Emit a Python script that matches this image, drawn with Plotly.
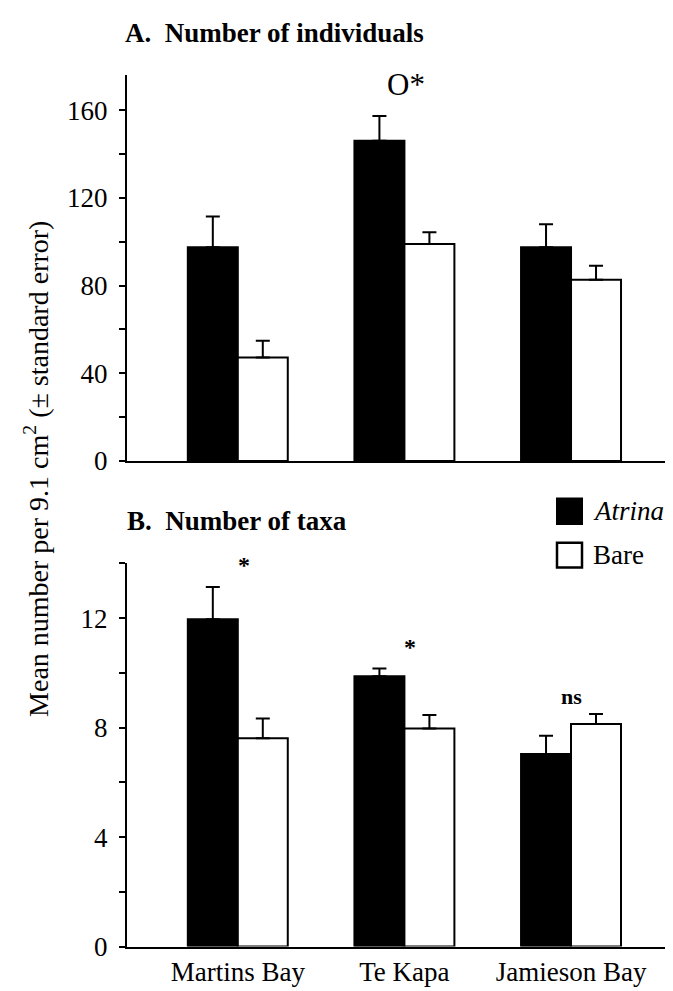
import plotly.graph_objects as go

# ---- data ----
sites = ["Martins Bay", "Te Kapa", "Jamieson Bay"]
indiv_atrina = [97.5, 146.0, 97.5]
indiv_atrina_se = [14.0, 11.3, 10.4]
indiv_bare = [47.2, 98.9, 82.7]
indiv_bare_se = [7.6, 5.4, 6.3]
taxa_atrina = [11.96, 9.88, 7.04]
taxa_atrina_se = [1.18, 0.28, 0.66]
taxa_bare = [7.61, 7.97, 8.13]
taxa_bare_se = [0.72, 0.49, 0.37]
ticks_a = [0, 40, 80, 120, 160]
ticks_b = [0, 4, 8, 12]
series_names = ["Atrina", "Bare"]

W, H = 673, 991
FONT = "Liberation Serif, Times New Roman, DejaVu Serif, serif"

def px_x(p):
    return p / W

def px_y(p):
    return 1 - p / H

fig = go.Figure()

def add_bars(vals, se, color, name, xa, ya):
    fig.add_trace(go.Bar(
        x=sites, y=vals, name=name, xaxis=xa, yaxis=ya,
        marker=dict(color=color, line=dict(color="black", width=2)),
        error_y=dict(type="data", array=se, arrayminus=[0] * len(se), symmetric=False,
                     color="black", thickness=2, width=7),
        offsetgroup=name, showlegend=False,
    ))

add_bars(indiv_atrina, indiv_atrina_se, "black", series_names[0], "x", "y")
add_bars(indiv_bare, indiv_bare_se, "white", series_names[1], "x", "y")
add_bars(taxa_atrina, taxa_atrina_se, "black", series_names[0], "x2", "y2")
add_bars(taxa_bare, taxa_bare_se, "white", series_names[1], "x2", "y2")

xdom = [px_x(119), 1.0]
xrange_ = [-0.665, 2.66]
axis_common = dict(showline=True, linecolor="black", linewidth=2, showgrid=False, zeroline=False)

fig.update_layout(
    width=W, height=H,
    margin=dict(l=0, r=0, t=0, b=0),
    paper_bgcolor="white", plot_bgcolor="white",
    barmode="group", bargap=0.4, bargroupgap=0,
    font=dict(family=FONT, color="black", size=27),
    xaxis=dict(domain=xdom, range=xrange_, anchor="y", showticklabels=False, ticks="",
               **axis_common),
    yaxis=dict(domain=[px_y(460), px_y(68)], range=[0, 176], anchor="x",
               tickvals=ticks_a, ticks="outside", ticklen=6, tickwidth=2, tickcolor="black",
               minor=dict(dtick=20, tick0=0, ticks="outside", ticklen=6, tickwidth=2, tickcolor="black"),
               tickfont=dict(size=27, family=FONT), ticklabelstandoff=6, **axis_common),
    xaxis2=dict(domain=xdom, range=xrange_, anchor="y2", ticks="",
                tickfont=dict(size=27, family=FONT), **axis_common),
    yaxis2=dict(domain=[px_y(953), px_y(564)], range=[0, 14], anchor="x2",
                tickvals=ticks_b, ticks="outside", ticklen=6, tickwidth=2, tickcolor="black",
                minor=dict(dtick=2, tick0=0, ticks="outside", ticklen=6, tickwidth=2, tickcolor="black"),
                tickfont=dict(size=27, family=FONT), ticklabelstandoff=6, **axis_common),
)

ann = []
# panel titles
ann.append(dict(text="<b>A.  Number of individuals</b>", x=px_x(115), y=px_y(25),
                xref="paper", yref="paper", xanchor="left", yanchor="middle",
                showarrow=False, font=dict(size=27, family=FONT)))
ann.append(dict(text="<b>B.  Number of taxa</b>", x=px_x(117), y=px_y(521),
                xref="paper", yref="paper", xanchor="left", yanchor="middle",
                showarrow=False, font=dict(size=27, family=FONT)))
# y-axis title
ann.append(dict(text="Mean number per 9.1 cm<sup>2</sup> (± standard error)", x=px_x(29), y=px_y(468),
                xref="paper", yref="paper", xanchor="center", yanchor="middle", textangle=-90,
                showarrow=False, font=dict(size=28, family=FONT)))
# significance marks
ann.append(dict(text="O*", x=sites[1], y=171.5, xref="x", yref="y", showarrow=False,
                xanchor="center", yanchor="middle", xshift=2, font=dict(size=31, family=FONT)))
ann.append(dict(text="<b>*</b>", x=sites[0], y=13.95, xref="x2", yref="y2", showarrow=False,
                xanchor="center", yanchor="middle", xshift=6, font=dict(size=24, family=FONT)))
ann.append(dict(text="<b>*</b>", x=sites[1], y=10.95, xref="x2", yref="y2", showarrow=False,
                xanchor="center", yanchor="middle", xshift=6, font=dict(size=24, family=FONT)))
ann.append(dict(text="<b>ns</b>", x=sites[2], y=9.15, xref="x2", yref="y2", showarrow=False,
                xanchor="center", yanchor="middle", font=dict(size=22, family=FONT)))
# legend labels
ann.append(dict(text="<i>" + series_names[0] + "</i>", x=px_x(583), y=px_y(511),
                xref="paper", yref="paper", xanchor="left", yanchor="middle",
                showarrow=False, font=dict(size=27, family=FONT)))
ann.append(dict(text=series_names[1], x=px_x(583), y=px_y(555),
                xref="paper", yref="paper", xanchor="left", yanchor="middle",
                showarrow=False, font=dict(size=27, family=FONT)))
fig.update_layout(annotations=ann)

# legend swatches
fig.add_shape(type="rect", xref="paper", yref="paper",
              x0=px_x(549), x1=px_x(574), y0=px_y(524), y1=px_y(498),
              fillcolor="black", line=dict(color="black", width=2))
fig.add_shape(type="rect", xref="paper", yref="paper",
              x0=px_x(549), x1=px_x(574), y0=px_y(568), y1=px_y(543),
              fillcolor="white", line=dict(color="black", width=2.5))

fig.write_html("out.html")
